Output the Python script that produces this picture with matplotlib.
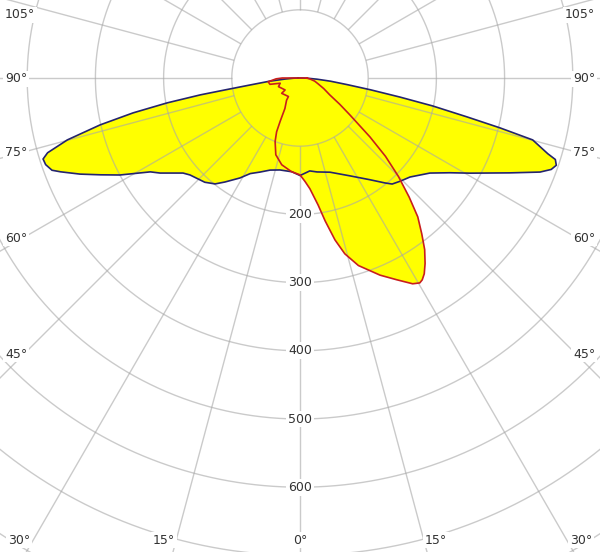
import numpy as np
import matplotlib
matplotlib.use("Agg")
import matplotlib.pyplot as plt

# ---------------- data (candela, angle gamma in degrees; + = right side) -------------
blue_gamma = [-90, -88, -86, -84, -82, -81, -80.4, -79.4, -78.2, -76.8, -75.1, -73.5,
              -72.5, -71.2, -69.6, -68.6, -66.4, -64.1, -61.7, -57.9, -55.8, -50.9,
              -48.6, -42.4, -38.7, -35.8, -31, -27.5, -23.1, -18, -12.3, -4.9, 0,
              6, 10.3, 17.7, 27, 34.5, 39, 41, 44.2, 48, 53.8, 57.7, 60.8, 65.7,
              68.6, 70, 71.2, 72.3, 73, 75.1, 76, 76.9, 78.1, 79.2, 80.5, 82, 84,
              86, 88, 90]
blue_cd = [3, 10, 22, 45, 75, 110, 148, 198, 250, 301, 353, 386,
           395, 394, 388, 377, 352, 325, 300, 259, 248, 221,
           215, 207, 199, 188, 171, 158, 150, 142, 138, 138, 143,
           137, 140, 145, 161, 181, 198, 206, 211, 217, 236, 260, 286, 338,
           378, 392, 397, 393, 380, 353, 302, 251, 199, 149, 105, 70, 45,
           25, 12, 3]

red_gamma = [90, 84, 78, 72, 66, 60.5, 56.5, 53.5, 49.9, 47.5, 45, 42.5, 40.3, 38,
             36, 34, 32.4, 31.2, 30.3, 28.7, 25.6, 22.1, 17.3, 14.3, 12.2, 10, 8.1,
             5.1, 2.8, 0, -5.1, -11.9, -17.5, -21.4, -23.5, -24.6, -26.3, -31.2, -32,
             -50.1, -51.3, -68.1, -75.2, -78.1, -83.3, -88, -90]
red_cd = [10, 15, 22, 28, 38, 50, 70, 91, 134, 170, 204, 237, 267, 290,
          311, 328, 340, 346, 348, 344, 328, 312, 288, 266, 243, 213, 188,
          163, 152, 142, 138, 130, 118, 100, 86, 70, 50, 38, 32,
          35, 28, 34, 30, 45, 47, 35, 26]

ring_values = [100, 200, 300, 400, 500, 600, 700, 800]
ring_labels = [200, 300, 400, 500, 600]
spoke_angles = list(range(0, 360, 15))

angle_labels = ["105°", "90°", "75°", "60°", "45°", "30°", "15°", "0°",
                "15°", "30°", "45°", "60°", "75°", "90°", "105°"]
# label anchor points in pixels (x from left, y from top)
angle_label_px = [(20, 15), (16, 79), (16, 152), (16, 238), (16, 354), (19, 540),
                  (164, 540), (300, 540), (436, 540), (581, 540), (584, 354),
                  (584, 238), (584, 152), (584, 79), (580, 15)]

# ---------------- layout ----------------
W, H = 600, 552
CX, CY = 300, 78          # polar centre, pixels (y from top)
PX_PER_CD = 0.682
RMAX = 900
R_PX = RMAX * PX_PER_CD

fig = plt.figure(figsize=(W / 100, H / 100), dpi=100)
fig.patch.set_facecolor("white")
ax = fig.add_axes([(CX - R_PX) / W, (H - CY - R_PX) / H, 2 * R_PX / W, 2 * R_PX / H],
                  projection="polar")
ax.set_theta_zero_location("S")
ax.set_theta_direction(1)
ax.set_ylim(0, RMAX)
ax.axis("off")

grid_kw = dict(color="#a8a8a8", alpha=0.6, lw=1.0, zorder=2, solid_capstyle="butt")

# fills
def closed(g, v):
    t = np.radians(np.array(g, dtype=float))
    r = np.array(v, dtype=float)
    t = np.concatenate([t, [0.0], t[:1]])
    r = np.concatenate([r, [0.0], r[:1]])
    return t, r

tb, rb = closed(blue_gamma, blue_cd)
tr, rr = closed(red_gamma, red_cd)
ax.fill(tb, rb, color="#ffff00", lw=0, zorder=1)
ax.fill(tr, rr, color="#ffff00", lw=0, zorder=1)

# grid rings and spokes
th = np.linspace(0, 2 * np.pi, 1441)
for rv in ring_values:
    ax.plot(th, np.full_like(th, rv), **grid_kw)
for a in spoke_angles:
    ax.plot([np.radians(a)] * 2, [ring_values[0], RMAX], **grid_kw)

# curves
ax.plot(tb, rb, color="#24246e", lw=1.2, zorder=4, solid_joinstyle="round")
ax.plot(tr, rr, color="#c81e1e", lw=1.2, zorder=5, solid_joinstyle="round")

# ring labels
for rv in ring_labels:
    ax.text(0, rv, str(rv), ha="center", va="center", fontsize=9, color="#333333",
            family="DejaVu Sans", zorder=6,
            bbox=dict(boxstyle="square,pad=0.15", fc="white", ec="none"))

# angle labels
for txt, (px, py) in zip(angle_labels, angle_label_px):
    fig.text(px / W, 1 - py / H, txt, ha="center", va="center", fontsize=9,
             color="#333333", family="DejaVu Sans", zorder=6,
             bbox=dict(boxstyle="square,pad=0.15", fc="white", ec="none"))

fig.savefig("out.png", dpi=100, facecolor="white")
